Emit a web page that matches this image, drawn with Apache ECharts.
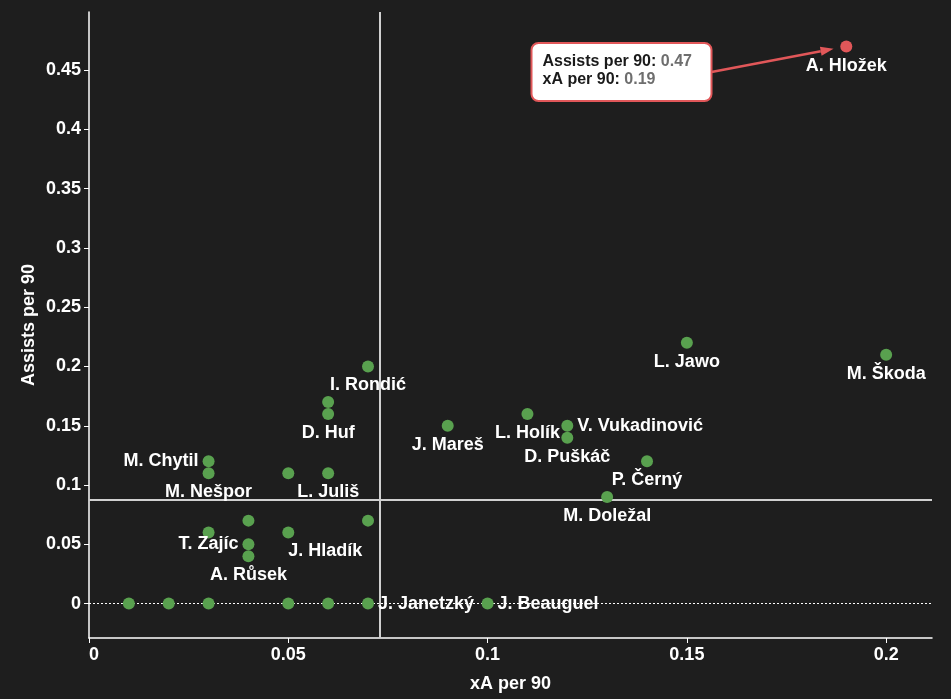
<!DOCTYPE html>
<html><head><meta charset="utf-8">
<script src="https://cdn.jsdelivr.net/npm/echarts@6/dist/echarts.min.js"></script>
<style>html,body{margin:0;padding:0;background:#1e1e1e}#c{width:951px;height:699px}</style>
</head><body><div id="c"></div>
<script>
// ---- data ----
const players = ['J. Janetzký','J. Beauguel','','','','','','M. Chytil','M. Nešpor','','L. Juliš','','','T. Zajíc','A. Růsek','J. Hladík','','I. Rondić','','D. Huf','J. Mareš','L. Holík','V. Vukadinović','D. Puškáč','P. Černý','M. Doležal','L. Jawo','M. Škoda'];
const xAPer90 = [0.07,0.1,0.01,0.02,0.03,0.05,0.06,0.03,0.03,0.05,0.06,0.03,0.04,0.04,0.04,0.05,0.07,0.07,0.06,0.06,0.09,0.11,0.12,0.12,0.14,0.13,0.15,0.2];
const assistsPer90 = [0,0,0,0,0,0,0,0.12,0.11,0.11,0.11,0.06,0.07,0.05,0.04,0.06,0.07,0.2,0.17,0.16,0.15,0.16,0.15,0.14,0.12,0.09,0.22,0.21];
const highlightName = 'A. Hložek';
const highlightXA = 0.19;
const highlightAssists = 0.47;
const refXA = 0.073;
const refAssists = 0.0879;
const xTicks = [0,0.05,0.1,0.15,0.2];
const yTicks = [0,0.05,0.1,0.15,0.2,0.25,0.3,0.35,0.4,0.45];
const xTitle = 'xA per 90';
const yTitle = 'Assists per 90';

// ---- label placement (layout, not data) ----
const labelSide = {'J. Janetzký':'right','J. Beauguel':'right','M. Chytil':'left','T. Zajíc':'left','V. Vukadinović':'right'};
const labelShift = {'J. Hladík':37};

const FONT = "'Liberation Sans', Arial, sans-serif";
const GREEN = '#59a14f', RED = '#e15759';

const greenData = players.map((n,i)=>{
  const pos = labelSide[n] || 'bottom';
  return {name:n, value:[xAPer90[i], assistsPer90[i]],
    label:{show:!!n, position:pos, distance:4}};
});

const chart = echarts.init(document.getElementById('c'));
const labelStyle = {color:'#ffffff', fontFamily:FONT, fontWeight:'bold', fontSize:18, formatter:'{b}'};
chart.setOption({
  backgroundColor:'#1e1e1e',
  animation:false,
  grid:{left:89, right:19, top:12, bottom:61},
  xAxis:{type:'value', min:0, max:0.2115,
    name:xTitle, nameLocation:'middle', nameGap:37,
    nameTextStyle:{color:'#fff', fontFamily:FONT, fontWeight:'bold', fontSize:18},
    axisLine:{show:true, onZero:false, lineStyle:{color:'#fff', width:1.5}},
    axisTick:{show:true, length:5, customValues:xTicks, lineStyle:{color:'#fff'}},
    axisLabel:{color:'#fff', fontFamily:FONT, fontWeight:'bold', fontSize:18, margin:8, customValues:xTicks, alignMinLabel:'left'},
    splitLine:{show:false}},
  yAxis:{type:'value', min:-0.029, max:0.499,
    axisLine:{show:true, onZero:false, lineStyle:{color:'#fff', width:1.5}},
    axisTick:{show:true, length:5, customValues:yTicks, lineStyle:{color:'#fff'}},
    axisLabel:{color:'#fff', fontFamily:FONT, fontWeight:'bold', fontSize:18, margin:8, customValues:yTicks},
    splitLine:{show:false}},
  series:[
    {type:'scatter', symbolSize:12, itemStyle:{color:GREEN, opacity:1}, z:3,
      label:labelStyle,
      labelLayout:function(params){
        const n = players[params.dataIndex];
        return labelShift[n] ? {dx:labelShift[n], hideOverlap:false} : {hideOverlap:false};
      },
      data:greenData,
      markLine:{silent:true, symbol:'none', precision:4, label:{show:false}, z:1,
        data:[
          {xAxis:refXA, lineStyle:{color:'#d0d0d0', width:2, type:'solid'}},
          {yAxis:refAssists, lineStyle:{color:'#d0d0d0', width:2, type:'solid'}},
          {yAxis:0, lineStyle:{color:'#ffffff', width:1, type:[2,2]}}
        ]}},
    {type:'scatter', symbolSize:12, itemStyle:{color:RED, opacity:1}, z:4,
      label:Object.assign({}, labelStyle, {show:true, position:'bottom', distance:5}),
      data:[{name:highlightName, value:[highlightXA, highlightAssists]}]}
  ]
});

// annotation box + arrow + y title
const p = chart.convertToPixel({gridIndex:0}, [highlightXA, highlightAssists]);
const box = {x:531.5, y:43, w:180, h:58};
const sx = box.x + box.w, sy = 72;
const dx = p[0]-sx, dy = p[1]-sy, L = Math.sqrt(dx*dx+dy*dy);
const ux = dx/L, uy = dy/L;
const tipX = p[0] - ux*13, tipY = p[1] - uy*13;
const hl = 13, hw = 4.5;
const bx = tipX - ux*hl, by = tipY - uy*hl;
chart.setOption({graphic:[
  {type:'text', z:5, x:29.5, y:325, rotation:Math.PI/2, style:{
    text:yTitle, fill:'#fff', fontFamily:FONT, fontWeight:'bold', fontSize:18, align:'center', verticalAlign:'middle'}},
  {type:'line', z:10, shape:{x1:sx, y1:sy, x2:bx, y2:by}, style:{stroke:RED, lineWidth:2.5}},
  {type:'polygon', z:10, shape:{points:[[tipX,tipY],[bx - uy*hw, by + ux*hw],[bx + uy*hw, by - ux*hw]]}, style:{fill:RED}},
  {type:'rect', z:11, shape:{x:box.x, y:box.y, width:box.w, height:box.h, r:7}, style:{fill:'#ffffff', stroke:RED, lineWidth:2}},
  {type:'text', z:12, x:box.x+11, y:box.y+10, style:{
    text:'{k|Assists per 90: }{v|'+highlightAssists+'}\n{k|xA per 90: }{v|'+highlightXA+'}',
    rich:{k:{fontFamily:FONT, fontWeight:'bold', fontSize:16, fill:'#1a1a1a', lineHeight:18},
          v:{fontFamily:FONT, fontWeight:'bold', fontSize:16, fill:'#6e6e6e', lineHeight:18}}}}
]});
</script>
</body></html>
